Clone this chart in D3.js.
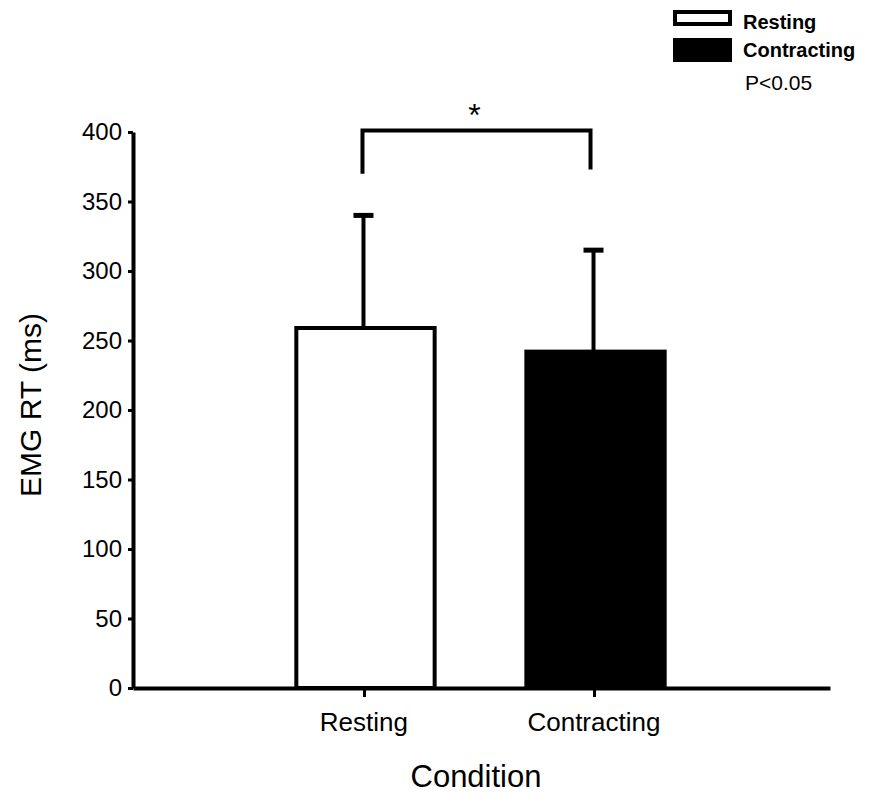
<!DOCTYPE html>
<html>
<head>
<meta charset="utf-8">
<script src="https://d3js.org/d3.v7.min.js"></script>
<style>
body { margin: 0; background: #fff; }
text { font-family: "Liberation Sans", Arial, sans-serif; fill: #000; }
.axis path, .axis line { stroke: #000; }
</style>
</head>
<body>
<svg width="870" height="793"></svg>
<script>

// values
var conditions = ["Resting", "Contracting"];
var meanRT = [259, 242];
var sdRT = [81, 73];
var yTicks = [0, 50, 100, 150, 200, 250, 300, 350, 400];
var legendLabels = ["Resting", "Contracting"];
var sigLabel = "P<0.05";

var svg = d3.select("svg"),
    margin = {top: 132, right: 40, bottom: 105, left: 133},
    width = +svg.attr("width") - margin.left - margin.right,
    height = +svg.attr("height") - margin.top - margin.bottom,
    g = svg.append("g").attr("transform", "translate(" + margin.left + "," + margin.top + ")");

var x = d3.scaleBand()
    .domain(conditions)
    .range([0, width])
    .paddingInner(0.39)
    .paddingOuter(0.71);

var y = d3.scaleLinear()
    .domain([0, 400])
    .range([height, 0]);

var fills = ["#fff", "#000"];

// bars
g.selectAll(".bar")
    .data(conditions)
  .enter().append("rect")
    .attr("class", "bar")
    .attr("x", function(d) { return x(d); })
    .attr("y", function(d, i) { return y(meanRT[i]); })
    .attr("width", x.bandwidth() - 2)
    .attr("height", function(d, i) { return y(0) - y(meanRT[i]); })
    .attr("fill", function(d, i) { return fills[i]; })
    .attr("stroke", "#000")
    .attr("stroke-width", 4);

// error bars (upper only)
var err = g.selectAll(".err")
    .data(conditions)
  .enter().append("g")
    .attr("class", "err");

err.append("line")
    .attr("x1", function(d) { return x(d) + x.bandwidth() / 2 - 3; })
    .attr("x2", function(d) { return x(d) + x.bandwidth() / 2 - 3; })
    .attr("y1", function(d, i) { return y(meanRT[i]); })
    .attr("y2", function(d, i) { return y(meanRT[i] + sdRT[i]); })
    .attr("stroke", "#000")
    .attr("stroke-width", 4);

err.append("line")
    .attr("x1", function(d) { return x(d) + x.bandwidth() / 2 - 13; })
    .attr("x2", function(d) { return x(d) + x.bandwidth() / 2 + 7; })
    .attr("y1", function(d, i) { return y(meanRT[i] + sdRT[i]); })
    .attr("y2", function(d, i) { return y(meanRT[i] + sdRT[i]); })
    .attr("stroke", "#000")
    .attr("stroke-width", 5);

// significance bracket
var xa = x(conditions[0]) + x.bandwidth() / 2 - 4,
    xb = x(conditions[1]) + x.bandwidth() / 2 - 6;
g.append("path")
    .attr("d", "M" + xa + "," + y(370) + "V" + y(401) + "H" + xb + "V" + y(373))
    .attr("fill", "none")
    .attr("stroke", "#000")
    .attr("stroke-width", 4);

g.append("text")
    .attr("x", (xa + xb) / 2 - 2)
    .attr("y", y(401) - 5)
    .attr("text-anchor", "middle")
    .style("font-size", "32px")
    .text("*");

// axes
g.append("g")
    .attr("class", "axis axis--x")
    .attr("transform", "translate(0," + height + ")")
    .call(d3.axisBottom(x).tickSize(9).tickSizeOuter(0).tickPadding(16))
    .call(function(a) {
      a.select(".domain").attr("stroke-width", 4);
      a.selectAll(".tick line").attr("stroke-width", 3).attr("transform", "translate(-2,0)");
      a.selectAll(".tick text").style("font-size", "26px").attr("dx", "-0.1em");
    });

g.append("g")
    .attr("class", "axis axis--y")
    .call(d3.axisLeft(y).tickValues(yTicks).tickSize(5).tickSizeOuter(0).tickPadding(6))
    .call(function(a) {
      a.select(".domain").attr("stroke-width", 4);
      a.selectAll(".tick line").attr("stroke-width", 3);
      a.selectAll(".tick text").style("font-size", "24px");
    });

// axis titles
svg.append("text")
    .attr("transform", "translate(41," + (margin.top + height / 2 - 5) + ") rotate(-90)")
    .attr("text-anchor", "middle")
    .style("font-size", "30px")
    .text("EMG RT (ms)");

svg.append("text")
    .attr("x", 476)
    .attr("y", 787)
    .attr("text-anchor", "middle")
    .style("font-size", "31px")
    .text("Condition");

// legend
var legend = svg.append("g").attr("transform", "translate(673,10)");
var lg = legend.selectAll(".lg")
    .data(legendLabels)
  .enter().append("g")
    .attr("transform", function(d, i) { return "translate(0," + (i * 28) + ")"; });

lg.append("rect")
    .attr("x", 2)
    .attr("y", 2)
    .attr("width", 55)
    .attr("height", function(d, i) { return i ? 20 : 12; })
    .attr("fill", function(d, i) { return fills[i]; })
    .attr("stroke", "#000")
    .attr("stroke-width", 4);

lg.append("text")
    .attr("x", 70)
    .attr("y", 19)
    .style("font-size", "20px")
    .style("font-weight", "bold")
    .text(function(d) { return d; });

legend.append("text")
    .attr("x", 72)
    .attr("y", 80)
    .style("font-size", "21px")
    .text(sigLabel);

</script>
</body>
</html>
